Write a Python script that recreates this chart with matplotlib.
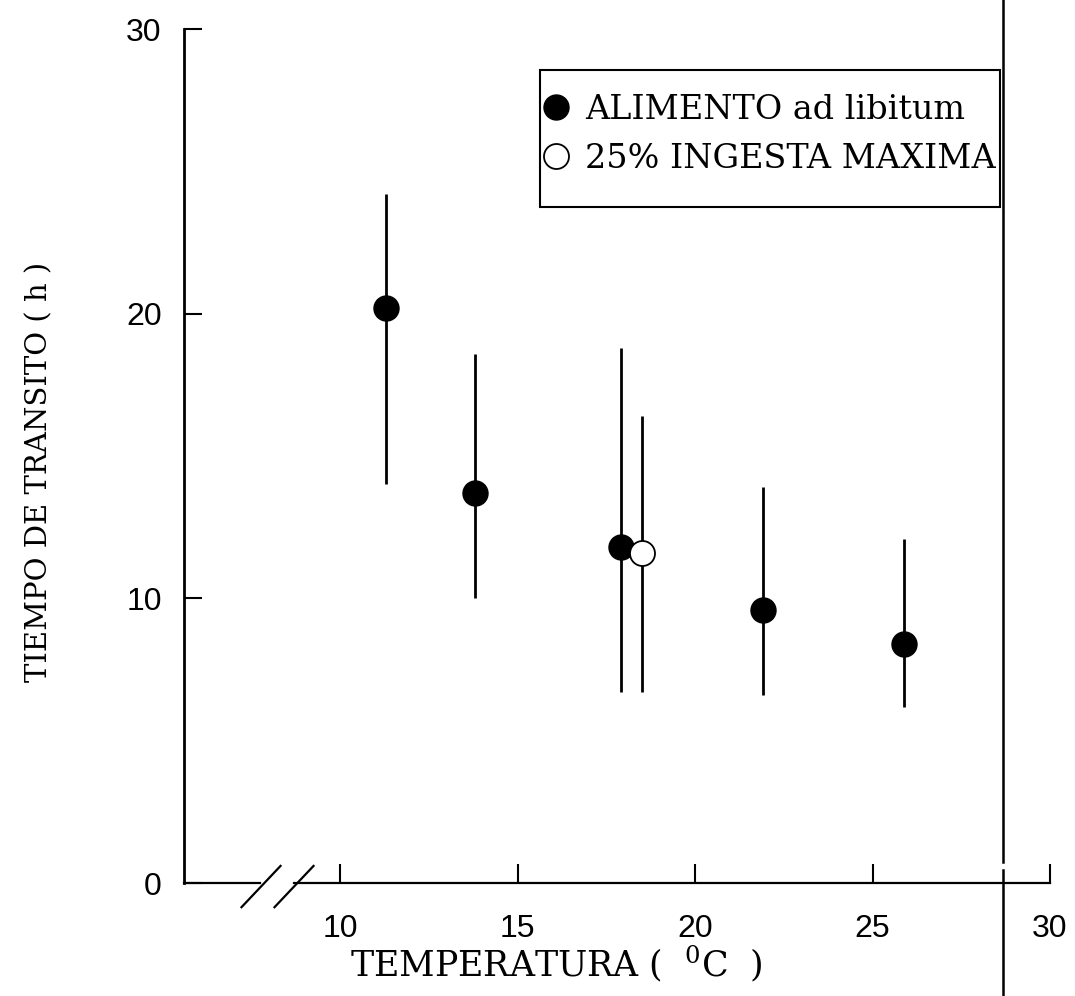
import numpy as np
import matplotlib
matplotlib.use("Agg")
import matplotlib.pyplot as plt
from matplotlib.lines import Line2D
from matplotlib.patches import Rectangle

plt.rcParams['mathtext.fontset'] = 'dejavuserif'

# data
temp_ad = [11.3, 13.8, 17.9, 21.9, 25.9]
tiempo_ad = [20.2, 13.7, 11.8, 9.6, 8.4]
low_ad = [14.0, 10.0, 6.7, 6.6, 6.2]
high_ad = [24.2, 18.6, 18.8, 13.9, 12.1]

temp_25 = [18.5]
tiempo_25 = [11.6]
low_25 = [6.7]
high_25 = [16.4]

xticks = [10, 15, 20, 25, 30]
yticks = [0, 10, 20, 30]

W, H = 1075, 996
fig = plt.figure(figsize=(W / 100, H / 100), dpi=100)
ax = fig.add_axes([184 / W, 1 - 883 / H, (1050 - 184) / W, (883 - 29) / H])

def px(x, y):
    # pixel position (from top left) -> figure fraction
    return x / W, 1 - y / H

# error bars (no caps)
yerr_ad = [np.array(tiempo_ad) - np.array(low_ad), np.array(high_ad) - np.array(tiempo_ad)]
yerr_25 = [np.array(tiempo_25) - np.array(low_25), np.array(high_25) - np.array(tiempo_25)]
ax.errorbar(temp_ad, tiempo_ad, yerr=yerr_ad, fmt='none', ecolor='k', elinewidth=2, capsize=0)
ax.errorbar(temp_25, tiempo_25, yerr=yerr_25, fmt='none', ecolor='k', elinewidth=2, capsize=0)

h1, = ax.plot(temp_ad, tiempo_ad, 'o', color='k', markersize=18, zorder=3)
h2, = ax.plot(temp_25, tiempo_25, 'o', markerfacecolor='white', markeredgecolor='k',
              markeredgewidth=1.3, markersize=18, zorder=3)

ax.set_xlim(5.6, 30)
ax.set_ylim(0, 30)

for s in ['top', 'right', 'bottom']:
    ax.spines[s].set_visible(False)
ax.spines['left'].set_linewidth(2)

# broken x axis
ax.plot([5.6, 7.75], [0, 0], color='k', lw=1.6, clip_on=False)
ax.plot([8.7, 30], [0, 0], color='k', lw=1.6, clip_on=False)
for xc in [7.77, 8.7]:
    ax.plot([xc - 0.55, xc + 0.55], [-0.85, 0.6], color='k', lw=1.6, clip_on=False)

ax.set_xticks(xticks)
ax.set_yticks(yticks)
ax.tick_params(axis='x', direction='in', length=14, width=1.5, pad=22, labelsize=23)
ax.tick_params(axis='y', direction='in', length=13, width=1.5, pad=16, labelsize=23)
for lab in ax.get_xticklabels() + ax.get_yticklabels():
    lab.set_family('Liberation Sans')

ax.set_xlabel('TEMPERATURA (  $^{0}$C  )', family='DejaVu Serif', fontsize=25, va='baseline')
ax.xaxis.set_label_coords((556 - 184) / (1050 - 184), (883 - 976) / (883 - 29))
ax.set_ylabel('TIEMPO DE TRANSITO ( h )', family='DejaVu Serif', fontsize=21,
              va='center', ha='center')
ax.yaxis.set_label_coords((39 - 184) / (1050 - 184), (883 - 472) / (883 - 29))

# legend, frame drawn separately
leg = ax.legend([h1, h2], ['ALIMENTO ad libitum', '25% INGESTA MAXIMA'],
                loc='upper left', bbox_to_anchor=px(543, 94), bbox_transform=fig.transFigure,
                frameon=False, borderpad=0, borderaxespad=0, handlelength=0.75,
                handletextpad=0.5, labelspacing=0.5,
                prop={'family': 'DejaVu Serif', 'size': 24})
x0, y0 = px(540, 207)
x1, y1 = px(1000, 70)
fig.add_artist(Rectangle((x0, y0), x1 - x0, y1 - y0, transform=fig.transFigure,
                         fill=False, edgecolor='k', lw=1.5))

# scan edge line at the right
fig.add_artist(Line2D([1003 / W, 1003 / W], [1 - 862 / H, 1], transform=fig.transFigure,
                      color='k', lw=1.8))
fig.add_artist(Line2D([1003 / W, 1003 / W], [0, 1 - 870 / H], transform=fig.transFigure,
                      color='k', lw=1.8))

fig.savefig('out.png', dpi=100)
